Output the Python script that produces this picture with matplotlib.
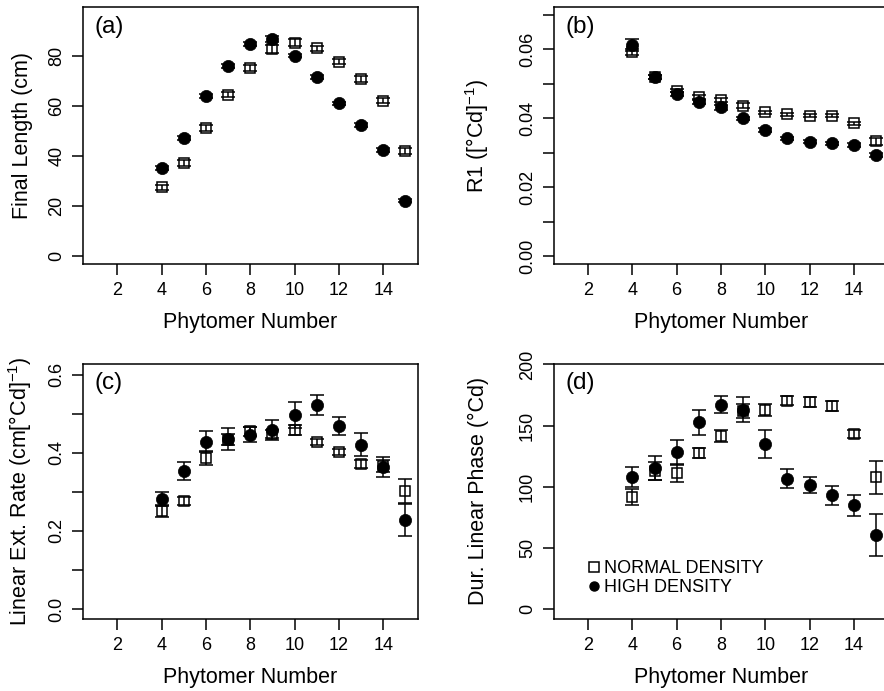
import matplotlib
matplotlib.use("Agg")
import matplotlib.pyplot as plt
from matplotlib.lines import Line2D
import numpy as np

plt.rcParams['font.family'] = ['Liberation Sans', 'DejaVu Sans']
plt.rcParams['mathtext.fontset'] = 'custom'
plt.rcParams['mathtext.rm'] = 'Liberation Sans'
plt.rcParams['mathtext.it'] = 'Liberation Sans'
plt.rcParams['mathtext.default'] = 'rm'

phytomer = [4, 5, 6, 7, 8, 9, 10, 11, 12, 13, 14, 15]

# (a) final leaf length (cm)
len_normal = [27.5, 37.3, 51.1, 64.5, 75.3, 82.7, 85.3, 83.1, 77.7, 70.7, 62.0, 42.0]
len_normal_se = [1.0, 1.2, 1.3, 1.0, 1.2, 1.5, 1.3, 1.0, 1.0, 1.2, 1.0, 1.2]
len_high = [35.1, 47.1, 64.1, 76.0, 84.8, 86.7, 80.0, 71.5, 61.1, 52.4, 42.4, 22.1]
len_high_se = [0.7, 0.7, 0.8, 0.8, 0.8, 1.2, 0.6, 0.7, 0.6, 0.8, 0.9, 0.7]

# (b) R1 ([degC d]^-1)
r1_normal = [0.0593, 0.0520, 0.0480, 0.0461, 0.0453, 0.0437, 0.0417, 0.0411, 0.0408, 0.0408, 0.0385, 0.0333]
r1_normal_se = [0.0008, 0.0005, 0.0005, 0.0006, 0.0006, 0.0006, 0.0005, 0.0004, 0.0005, 0.0005, 0.0005, 0.0010]
r1_high = [0.0612, 0.0519, 0.0470, 0.0448, 0.0432, 0.0400, 0.0366, 0.0342, 0.0332, 0.0327, 0.0322, 0.0293]
r1_high_se = [0.0017, 0.0006, 0.0006, 0.0006, 0.0007, 0.0005, 0.0006, 0.0004, 0.0004, 0.0004, 0.0005, 0.0005]

# (c) linear extension rate (cm [degC d]^-1)
rate_normal = [0.251, 0.276, 0.387, 0.434, 0.455, 0.449, 0.458, 0.428, 0.402, 0.372, 0.366, 0.302]
rate_normal_se = [0.015, 0.010, 0.019, 0.015, 0.012, 0.010, 0.013, 0.007, 0.007, 0.010, 0.015, 0.030]
rate_high = [0.281, 0.354, 0.429, 0.436, 0.447, 0.458, 0.498, 0.523, 0.468, 0.421, 0.364, 0.228]
rate_high_se = [0.018, 0.023, 0.028, 0.028, 0.019, 0.025, 0.033, 0.025, 0.023, 0.029, 0.026, 0.040]

# (d) duration of linear phase (degC d)
dur_normal = [91.5, 113.0, 111.2, 127.6, 141.3, 162.0, 162.6, 170.5, 169.4, 165.8, 143.2, 107.9]
dur_normal_se = [6.7, 7.5, 7.5, 4.0, 5.0, 6.0, 5.0, 4.0, 4.0, 4.0, 3.0, 13.5]
dur_high = [107.9, 115.3, 128.1, 152.7, 167.2, 163.1, 135.0, 106.6, 101.1, 92.9, 84.7, 60.7]
dur_high_se = [8.5, 10.0, 10.0, 10.0, 7.0, 10.0, 11.5, 7.5, 6.5, 7.5, 8.5, 17.0]

x_ticks = [2, 4, 6, 8, 10, 12, 14]
legend_labels = ["NORMAL DENSITY", "HIGH DENSITY"]

W, H = 884, 691
fig = plt.figure(figsize=(W / 100, H / 100), dpi=100)


def px_axes(left, top, right, bottom):
    return fig.add_axes([left / W, 1 - bottom / H, (right - left) / W, (bottom - top) / H])


def style(ax, ylim, yticks, ylabels, ylabel, tag, ylab_x, xlab_y):
    ax.set_xlim(0.45, 15.57)
    ax.set_ylim(*ylim)
    ax.set_xticks(x_ticks)
    ax.set_xticklabels([str(t) for t in x_ticks])
    ax.set_yticks(yticks)
    ax.set_yticklabels(ylabels, rotation=90, va='center')
    ax.tick_params(axis='both', direction='out', length=8.2, width=1.1,
                   labelsize=13, colors='black')
    ax.tick_params(axis='x', pad=5)
    ax.tick_params(axis='y', pad=4.5)
    for s in ax.spines.values():
        s.set_linewidth(1.1)
        s.set_color('black')
    ax.set_xlabel("Phytomer Number", fontsize=15.5, va='baseline')
    ax.xaxis.set_label_coords(0.5, xlab_y)
    ax.set_ylabel(ylabel, fontsize=15.5, va='baseline')
    ax.yaxis.set_label_coords(ylab_x, 0.5)
    ax.text(0.035, 0.965, tag, transform=ax.transAxes, fontsize=17.5,
            ha='left', va='top')


def series(ax, yn, en, yh, eh):
    common = dict(fmt='none', ecolor='black', elinewidth=1.1, capsize=5,
                  capthick=1.1)
    ax.errorbar(phytomer, yn, yerr=en, zorder=2, **common)
    ax.plot(phytomer, yn, ls='none', marker='s', ms=7.8, mfc='none',
            mec='black', mew=1.1, zorder=3)
    ax.errorbar(phytomer, yh, yerr=eh, zorder=4, **common)
    ax.plot(phytomer, yh, ls='none', marker='o', ms=8.8, mfc='black',
            mec='black', mew=0.5, zorder=5)


# panel geometry in pixels
L1, R1 = 83, 418
L2, R2 = 553.7, 888.7
T1, B1 = 7, 264
T2, B2 = 363.5, 619

ax_a = px_axes(L1, T1, R1, B1)
series(ax_a, len_normal, len_normal_se, len_high, len_high_se)
style(ax_a, (-3.3, 99.6), [0, 20, 40, 60, 80], ['0', '20', '40', '60', '80'],
      "Final Length (cm)", "(a)", -(L1 - 27.7) / (R1 - L1), -(328.3 - B1) / (B1 - T1))

ax_b = px_axes(L2, T1, R2, B1)
series(ax_b, r1_normal, r1_normal_se, r1_high, r1_high_se)
b_ticks = [0.0, 0.01, 0.02, 0.03, 0.04, 0.05, 0.06, 0.07]
b_labels = ['0.00', '', '0.02', '', '0.04', '', '0.06', '']
style(ax_b, (-0.0023, 0.0723), b_ticks, b_labels,
      "R1 ([°Cd]$^{-1}$)", "(b)", -(L2 - 483.7) / (R2 - L2), -(328.3 - B1) / (B1 - T1))

ax_c = px_axes(L1, T2, R1, B2)
series(ax_c, rate_normal, rate_normal_se, rate_high, rate_high_se)
c_ticks = [0.0, 0.1, 0.2, 0.3, 0.4, 0.5, 0.6]
c_labels = ['0.0', '', '0.2', '', '0.4', '', '0.6']
style(ax_c, (-0.0256, 0.629), c_ticks, c_labels,
      "Linear Ext. Rate (cm[°Cd]$^{-1}$)", "(c)", -(L1 - 26.7) / (R1 - L1),
      -(683.5 - B2) / (B2 - T2))

ax_d = px_axes(L2, T2, R2, B2)
series(ax_d, dur_normal, dur_normal_se, dur_high, dur_high_se)
style(ax_d, (-8.2, 200.8), [0, 50, 100, 150, 200], ['0', '50', '100', '150', '200'],
      "Dur. Linear Phase (°Cd)", "(d)", -(L2 - 483.7) / (R2 - L2),
      -(683.5 - B2) / (B2 - T2))

handles = [Line2D([], [], ls='none', marker='s', ms=6.5, mfc='none', mec='black', mew=1.1),
           Line2D([], [], ls='none', marker='o', ms=6.5, mfc='black', mec='black')]
ax_d.legend(handles, legend_labels, loc='upper left',
            bbox_to_anchor=((587 - L2) / (R2 - L2), (B2 - 560) / (B2 - T2)),
            frameon=False, fontsize=13, handlelength=0.8, handletextpad=0.15,
            borderpad=0, borderaxespad=0, labelspacing=0.12)

fig.savefig("out.png", dpi=100)
